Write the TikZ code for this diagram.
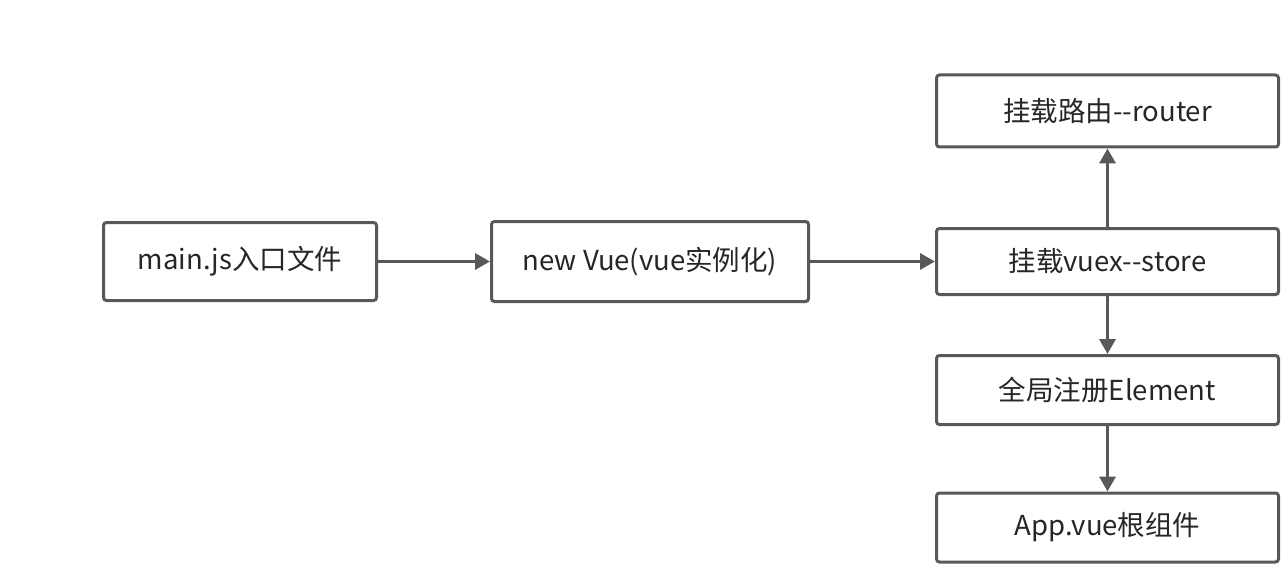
\documentclass[tikz,border=0pt]{standalone}
\usepackage{fontspec}
\setmainfont{Noto Sans CJK SC}
\usetikzlibrary{arrows.meta}
\definecolor{edge}{HTML}{595959}
\definecolor{txt}{HTML}{262626}
\tikzset{
  box/.style={draw=edge, line width=3pt, rounded corners=3pt, fill=white, text=txt,
    font=\fontsize{27.5}{32}\selectfont, inner sep=0pt, anchor=center},
  conn/.style={draw=edge, line width=3.5pt, -{Triangle[length=15pt,width=16pt]}}
}
\begin{document}
\begin{tikzpicture}[x=1pt,y=-1pt]
\useasboundingbox (0,0) rectangle (1288,567);
\node[box, minimum width=273pt, minimum height=78pt] (main) at (240,261.5) {main.js入口文件};
\node[box, minimum width=317pt, minimum height=80pt] (vue) at (650,261.5) {new Vue(vue实例化)};
\node[box, minimum width=342pt, minimum height=72pt] (router) at (1107.5,111) {挂载路由-{}-router};
\node[box, minimum width=342pt, minimum height=66pt] (vuex) at (1107.5,261.5) {挂载vuex-{}-store};
\node[box, minimum width=342pt, minimum height=69pt] (elem) at (1107.5,390) {全局注册Element};
\node[box, minimum width=342pt, minimum height=69pt] (app) at (1107.5,527.5) {App.vue根组件};
\draw[conn] (main) -- (vue);
\draw[conn] (vue) -- (vuex);
\draw[conn] (vuex) -- (router);
\draw[conn] (vuex) -- (elem);
\draw[conn] (elem) -- (app);
\end{tikzpicture}
\end{document}
